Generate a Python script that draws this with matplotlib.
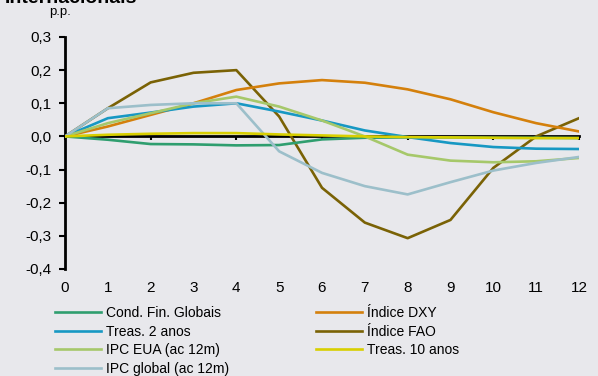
import matplotlib.pyplot as plt

plt.rcParams['font.family'] = ['Liberation Sans', 'DejaVu Sans']

# horizon (months)
months = list(range(13))

# responses, p.p.
cond_fin = [0, -0.010, -0.023, -0.024, -0.027, -0.026, -0.009, -0.004, -0.003, -0.003, -0.004, -0.004, -0.005]
dxy = [0, 0.030, 0.065, 0.100, 0.140, 0.160, 0.170, 0.162, 0.142, 0.112, 0.073, 0.040, 0.015]
treas2 = [0, 0.055, 0.072, 0.090, 0.100, 0.075, 0.048, 0.018, -0.002, -0.020, -0.032, -0.037, -0.038]
fao = [0, 0.085, 0.163, 0.192, 0.200, 0.060, -0.155, -0.260, -0.307, -0.252, -0.095, 0.000, 0.055]
ipc_eua = [0, 0.040, 0.070, 0.100, 0.120, 0.090, 0.048, 0.000, -0.055, -0.073, -0.078, -0.075, -0.065]
treas10 = [0, 0.005, 0.008, 0.010, 0.010, 0.006, 0.003, 0.000, -0.002, -0.003, -0.004, -0.005, -0.005]
ipc_global = [0, 0.085, 0.095, 0.100, 0.100, -0.045, -0.110, -0.150, -0.175, -0.138, -0.103, -0.080, -0.062]

yticks = [-0.4, -0.3, -0.2, -0.1, 0.0, 0.1, 0.2, 0.3]

bg = '#e8e8ec'
fig = plt.figure(figsize=(5.98, 3.76), dpi=100, facecolor=bg)
ax = fig.add_axes([0.1087, 0.2846, 0.8595, 0.617])
ax.set_facecolor(bg)

series = [
    ('Cond. Fin. Globais', cond_fin, '#2f9e6f'),
    ('Treas. 2 anos', treas2, '#1798c3'),
    ('IPC EUA (ac 12m)', ipc_eua, '#a6c86a'),
    ('IPC global (ac 12m)', ipc_global, '#9cbfca'),
    ('Índice DXY', dxy, '#d4800c'),
    ('Índice FAO', fao, '#7a6205'),
    ('Treas. 10 anos', treas10, '#d8cf00'),
]
# draw order: keep light/yellow on top like the original
order = [5, 4, 0, 1, 2, 3, 6]
handles = {}
for i in order:
    name, vals, col = series[i]
    handles[i], = ax.plot(months, vals, color=col, lw=1.9, label=name, zorder=3)

ax.set_xlim(0, 12)
ax.set_ylim(-0.4, 0.3)

# zero line with small ticks every 2
ax.spines['bottom'].set_position(('data', 0))
ax.spines['bottom'].set_linewidth(2)
ax.spines['bottom'].set_zorder(2)
ax.set_xticks(range(0, 13, 2))
ax.set_xticklabels([])
ax.tick_params(axis='x', direction='out', length=3, width=1.5, color='black')
ax.spines['top'].set_visible(False)
ax.spines['right'].set_visible(False)
ax.spines['left'].set_linewidth(2)

ax.set_yticks(yticks)
ax.set_yticklabels([f'{v:.1f}'.replace('.', ',') for v in yticks], fontsize=11)
ax.tick_params(axis='y', direction='out', length=4, width=1.5, pad=6)

sec = ax.secondary_xaxis(location=0)
sec.set_xticks(months)
sec.set_xticklabels([str(m) for m in months], fontsize=11)
sec.tick_params(length=0, pad=9)
sec.spines['bottom'].set_visible(False)

fig.text(0.1, 0.967, 'p.p.', fontsize=9.5, ha='center', va='center')
fig.text(0.008, 0.992, 'Internacionais', fontsize=14, fontweight='bold', ha='left', va='baseline')

fig.legend([handles[i] for i in range(7)], [s[0] for s in series],
           loc='upper left', bbox_to_anchor=(0.092, 0.186), ncol=2,
           frameon=False, fontsize=10, handlelength=3.3, handletextpad=0.35,
           labelspacing=0.33, columnspacing=6.3, borderpad=0, borderaxespad=0)

fig.savefig('out.png', dpi=100, facecolor=bg)
